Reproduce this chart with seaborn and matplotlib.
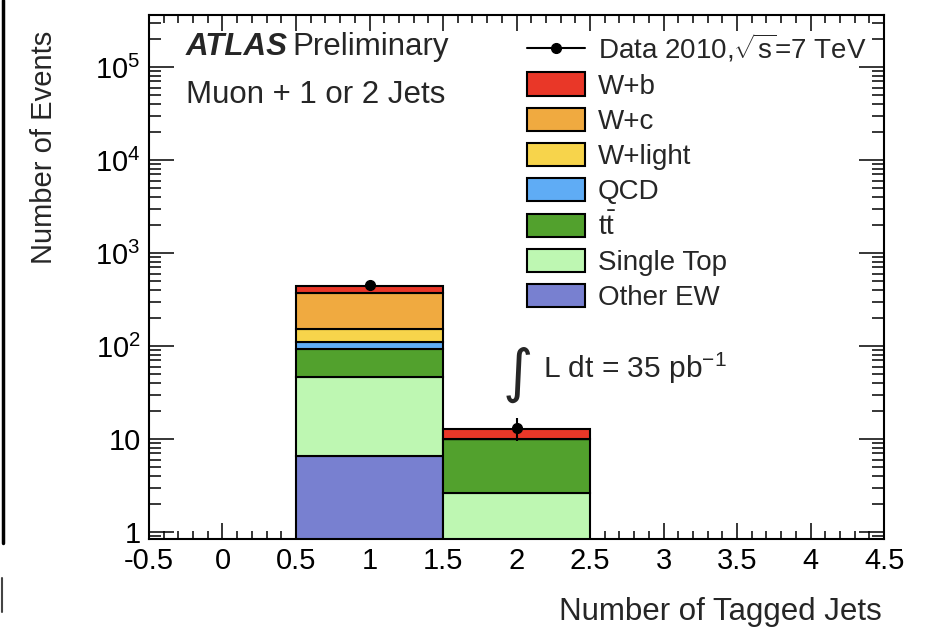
import numpy as np
import pandas as pd
import matplotlib
matplotlib.use("Agg")
import matplotlib.pyplot as plt
from matplotlib.patches import Patch
from matplotlib.lines import Line2D
from matplotlib.ticker import FixedLocator, FixedFormatter, LogLocator, NullFormatter
import seaborn as sns

# ---- data: events per number of b-tagged jets ----
n_tagged = [0, 1, 2, 3, 4]
bin_edges = [-0.5, 0.5, 1.5, 2.5, 3.5, 4.5]

processes = ["W+b", "W+c", "W+light", "QCD", "ttbar", "Single Top", "Other EW"]
w_b = [0, 76, 2.8, 0, 0]
w_c = [0, 217, 0, 0, 0]
w_light = [0, 41, 0, 0, 0]
qcd = [0, 18, 0, 0, 0]
ttbar = [0, 47, 7.25, 0, 0]
single_top = [0, 39.5, 2.65, 0, 0]
other_ew = [0, 6.5, 0, 0, 0]
data_2010 = [0, 450, 13, 0, 0]

legend_labels = ["W+b", "W+c", "W+light", "QCD",
                 r"$\mathrm{t\bar{t}}$", "Single Top", "Other EW"]
colors = ["#e93728", "#f0aa40", "#f7d44b", "#5facf5",
          "#52a12d", "#bef7b2", "#7880d0"]

x_ticks = [-0.5, 0, 0.5, 1, 1.5, 2, 2.5, 3, 3.5, 4, 4.5]
x_tick_labels = ["-0.5", "0", "0.5", "1", "1.5", "2", "2.5", "3", "3.5", "4", "4.5"]
y_ticks = [1, 10, 1e2, 1e3, 1e4, 1e5]
y_tick_labels = ["1", "10", r"$10^{2}$", r"$10^{3}$", r"$10^{4}$", r"$10^{5}$"]

# ---- style ----
sns.set_style("ticks")
plt.rcParams["font.family"] = ["Liberation Sans", "DejaVu Sans"]
plt.rcParams["mathtext.fontset"] = "custom"
plt.rcParams["mathtext.rm"] = "Liberation Sans"
plt.rcParams["mathtext.it"] = "Liberation Sans:italic"
plt.rcParams["mathtext.bf"] = "Liberation Sans:bold"
plt.rcParams["axes.unicode_minus"] = False

yields = [w_b, w_c, w_light, qcd, ttbar, single_top, other_ew]
df = pd.DataFrame({
    "n_tagged": np.tile(n_tagged, len(processes)),
    "events": np.concatenate(yields),
    "process": np.repeat(processes, len(n_tagged)),
})

fig = plt.figure(figsize=(9.27, 6.28), dpi=100)
ax = fig.add_axes([0.1607, 0.1417, 0.793, 0.834])

sns.histplot(data=df, x="n_tagged", weights="events", hue="process",
             hue_order=processes, palette=dict(zip(processes, colors)),
             multiple="stack", bins=bin_edges, element="bars", fill=True,
             alpha=1, edgecolor="black", linewidth=1.5, legend=False, ax=ax)
ax.set_yscale("log")

# data points with Poisson errors
x_arr = np.array(n_tagged, dtype=float)
d_arr = np.array(data_2010, dtype=float)
mask = d_arr > 0
ax.errorbar(x_arr[mask], d_arr[mask], yerr=np.sqrt(d_arr[mask]), fmt="o",
            color="black", ms=7, elinewidth=1.5, capsize=0, zorder=5)

ax.set_xlim(-0.5, 4.5)
ax.set_ylim(0.84, 3.6e5)

# axes, ticks
for s in ax.spines.values():
    s.set_linewidth(1.5)
    s.set_color("black")
ax.xaxis.set_major_locator(FixedLocator(x_ticks))
ax.xaxis.set_major_formatter(FixedFormatter(x_tick_labels))
ax.xaxis.set_minor_locator(FixedLocator(np.arange(-0.5, 4.51, 0.1)))
ax.yaxis.set_major_locator(FixedLocator(y_ticks))
ax.yaxis.set_major_formatter(FixedFormatter(y_tick_labels))
ax.yaxis.set_minor_locator(LogLocator(base=10, subs=range(2, 10), numticks=20))
ax.yaxis.set_minor_formatter(NullFormatter())
ax.tick_params(which="both", direction="in", top=True, right=True,
               width=1.1, colors="black", labelsize=21)
ax.tick_params(axis="x", which="major", length=11.5, pad=6)
ax.tick_params(axis="x", which="minor", length=6)
ax.tick_params(axis="y", which="major", length=18, pad=6)
ax.tick_params(axis="y", which="minor", length=8.5)

ax.set_xlabel("Number of Tagged Jets", fontsize=22.5, loc="right")
ax.xaxis.set_label_coords(0.997, -0.11)
ax.set_ylabel("Number of Events", fontsize=21, loc="top")
ax.yaxis.set_label_coords(-0.124, 0.971)

# labels
ax.text(0.050, 0.939, "ATLAS", transform=ax.transAxes, fontsize=22.5,
        fontweight="bold", fontstyle="italic", va="center", ha="left")
ax.text(0.195, 0.939, "Preliminary", transform=ax.transAxes, fontsize=22.5,
        va="center", ha="left")
ax.text(0.050, 0.847, "Muon + 1 or 2 Jets", transform=ax.transAxes,
        fontsize=22.5, va="center", ha="left")
ax.text(0.502, 0.315, "\u222b", transform=ax.transAxes, fontsize=42,
        va="center", ha="center", family=["DejaVu Sans"])
ax.text(0.536, 0.326, r"L dt = 35 pb$^{\mathrm{-1}}$", transform=ax.transAxes,
        fontsize=21.5, va="center", ha="left")

# legend
handles = [Line2D([0], [0], color="black", marker="o", ms=7, lw=1.5)]
handles += [Patch(facecolor=c, edgecolor="black", linewidth=1.5) for c in colors]
labels = [r"Data 2010,$\mathregular{\sqrt{s}}$=7 TeV"] + legend_labels
ax.legend(handles, labels, loc="upper left", bbox_to_anchor=(0.514, 0.968),
          frameon=False, fontsize=20, handlelength=2.1, handleheight=0.92,
          handletextpad=0.45, labelspacing=0.28, borderpad=0, borderaxespad=0)

# edge of neighbouring panel
fig.add_artist(Line2D([0.003, 0.003], [1.0, 1 - 543 / 628],
                      transform=fig.transFigure, color="black", lw=2.5))
fig.add_artist(Line2D([0.002, 0.002], [1 - 578 / 628, 1 - 612 / 628],
                      transform=fig.transFigure, color="#444444", lw=1.5))

fig.savefig("out.png", dpi=100)
